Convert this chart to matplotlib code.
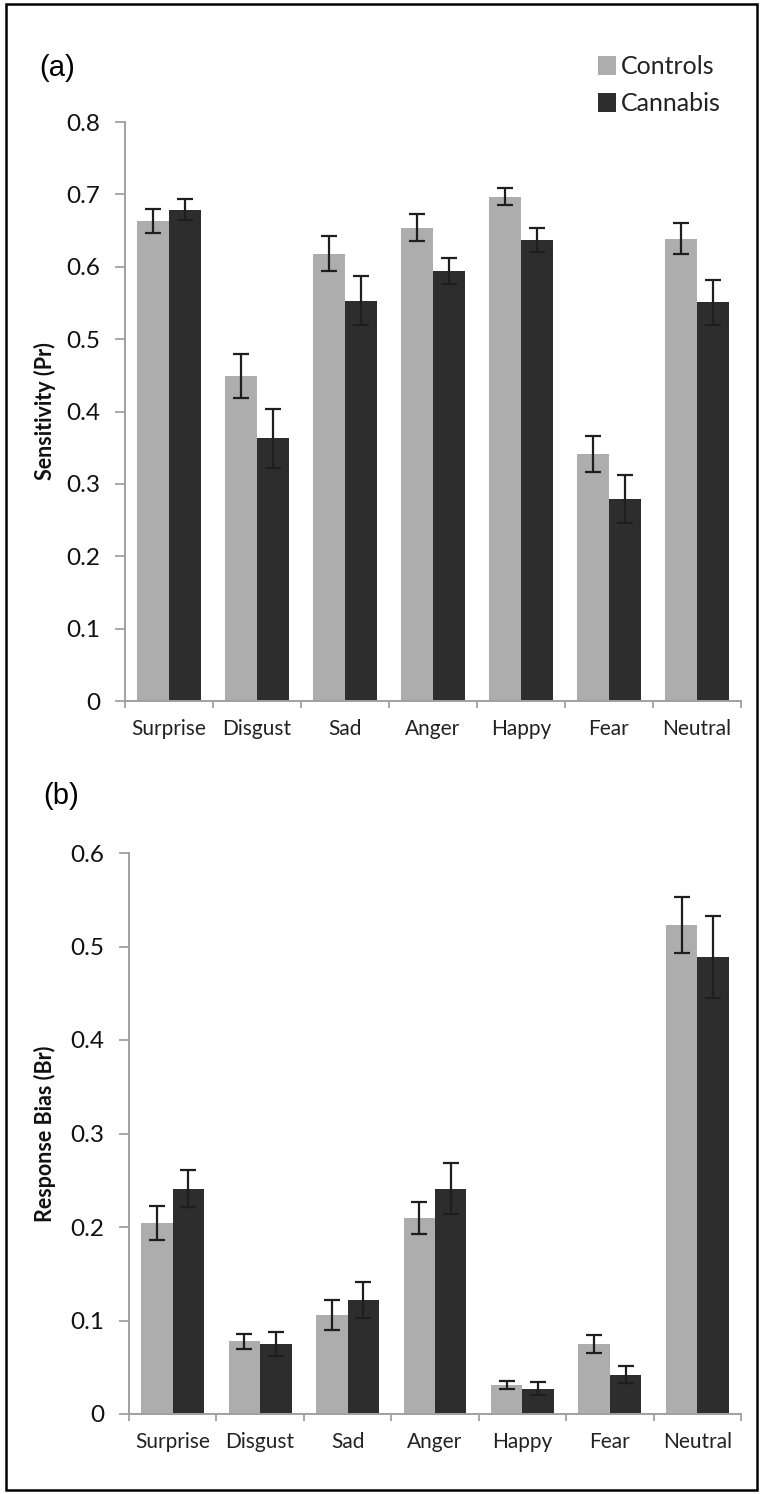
import matplotlib.pyplot as plt
from matplotlib.patches import Rectangle
import numpy as np

plt.rcParams['font.family'] = ['Lato', 'DejaVu Sans']

emotions = ['Surprise', 'Disgust', 'Sad', 'Anger', 'Happy', 'Fear', 'Neutral']

# (a) sensitivity Pr
pr_controls = [0.663, 0.449, 0.618, 0.654, 0.697, 0.341, 0.639]
pr_controls_err = [0.017, 0.030, 0.024, 0.019, 0.012, 0.025, 0.022]
pr_cannabis = [0.679, 0.363, 0.553, 0.594, 0.637, 0.279, 0.551]
pr_cannabis_err = [0.015, 0.041, 0.034, 0.018, 0.016, 0.033, 0.031]

# (b) response bias Br
br_controls = [0.204, 0.078, 0.106, 0.210, 0.031, 0.075, 0.523]
br_controls_err = [0.018, 0.008, 0.016, 0.017, 0.004, 0.010, 0.030]
br_cannabis = [0.241, 0.075, 0.122, 0.241, 0.027, 0.042, 0.489]
br_cannabis_err = [0.020, 0.013, 0.019, 0.027, 0.007, 0.009, 0.044]

light = '#adadad'
dark = '#2d2d2d'
spine_col = '#a0a0a0'

W, H = 762, 1494
fig = plt.figure(figsize=(W / 100, H / 100), dpi=100)


def panel(left, top, right, bottom, ctrl, ctrl_err, cann, cann_err, ymax, ylabel):
    ax = fig.add_axes([left / W, 1 - bottom / H, (right - left) / W, (bottom - top) / H])
    x = np.arange(len(emotions))
    bw = 0.36
    ekw = dict(elinewidth=1.6, capthick=1.6, ecolor='#1e1e1e')
    ax.bar(x - bw / 2, ctrl, bw, color=light, yerr=ctrl_err, capsize=5.5,
           error_kw=ekw, label='Controls')
    ax.bar(x + bw / 2, cann, bw, color=dark, yerr=cann_err, capsize=5.5,
           error_kw=ekw, label='Cannabis')
    ax.set_xlim(-0.5, len(emotions) - 0.5)
    ax.set_ylim(0, ymax)
    ticks = np.round(np.arange(0, ymax + 0.001, 0.1), 1)
    ax.set_yticks(ticks, ['0'] + ['%.1f' % v for v in ticks[1:]])
    ax.set_xticks(np.arange(-0.5, len(emotions)), [''] * (len(emotions) + 1))
    ax.set_xticks(x, emotions, minor=True)
    for s in ['top', 'right']:
        ax.spines[s].set_visible(False)
    for s in ['left', 'bottom']:
        ax.spines[s].set_color(spine_col)
        ax.spines[s].set_linewidth(1.4)
    ax.tick_params(axis='y', which='major', direction='out', length=7, width=1.3,
                   color=spine_col, labelsize=17.5, pad=11, labelcolor='#111111')
    ax.tick_params(axis='x', which='major', direction='out', length=5, width=1.3,
                   color=spine_col)
    ax.tick_params(axis='x', which='minor', length=0, labelsize=15, pad=13,
                   labelcolor='#222222')
    ax.set_ylabel(ylabel, fontsize=15.5, fontweight='bold', color='#111111')
    ax.yaxis.set_label_coords((56 - left) / (right - left), 0.5)
    return ax


ax1 = panel(125, 122, 741, 701,
            pr_controls, pr_controls_err, pr_cannabis, pr_cannabis_err,
            0.8, 'Sensitivity (Pr)')
ax2 = panel(129, 853, 741, 1414,
            br_controls, br_controls_err, br_cannabis, br_cannabis_err,
            0.6, 'Response Bias (Br)')

ax1.legend(frameon=False, loc='upper left', bbox_to_anchor=(598 / W, 1 - 55 / H),
           bbox_transform=fig.transFigure, handlelength=0.7, handleheight=0.8,
           handletextpad=0.2, labelspacing=0.55, borderpad=0, borderaxespad=0,
           fontsize=18, labelcolor='#222222')

fig.text(39 / W, 1 - 68 / H, '(a)', fontsize=21, family='Liberation Sans',
         va='center', ha='left')
fig.text(43 / W, 1 - 796 / H, '(b)', fontsize=21, family='Liberation Sans',
         va='center', ha='left')

fig.patches.append(Rectangle((6 / W, 4 / H), 751 / W, 1486 / H, fill=False,
                             lw=1.8, ec='black', transform=fig.transFigure))

fig.savefig('out.png', dpi=100)
